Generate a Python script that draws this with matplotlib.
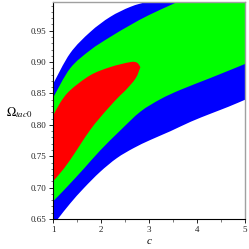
import numpy as np
import matplotlib
matplotlib.use("Agg")
from matplotlib import pyplot as plt
from matplotlib.path import Path
from matplotlib.patches import PathPatch
from matplotlib.ticker import MultipleLocator

# 信頼領域の境界 (c, Omega_tac0) : 画像から読み取った値
# 3 sigma (青)
blue_up_c = [1.0, 1.356, 1.775, 2.19, 2.61, 3.0, 3.4, 3.9, 5.0]
blue_up_y = [0.865, 0.914, 0.948, 0.972, 0.988, 0.997, 1.004, 1.01, 1.015]
blue_lo_c = [1.0, 1.11, 1.36, 1.64, 1.98, 2.33, 2.68, 3.03, 3.45, 3.87, 4.29, 4.66, 5.0]
blue_lo_y = [0.64, 0.651, 0.675, 0.699, 0.725, 0.747, 0.763, 0.776, 0.790, 0.805, 0.818, 0.829, 0.840]

# 2 sigma (緑)
green_up_c = [1.0, 1.356, 1.775, 2.19, 2.61, 3.0, 3.51, 3.8, 4.3, 5.0]
green_up_y = [0.843, 0.890, 0.919, 0.940, 0.959, 0.975, 0.993, 1.003, 1.01, 1.015]
green_lo_c = [1.0, 1.29, 1.64, 1.98, 2.40, 2.82, 3.24, 3.66, 4.29, 5.0]
green_lo_y = [0.678, 0.701, 0.730, 0.759, 0.791, 0.821, 0.841, 0.856, 0.875, 0.897]

# 1 sigma (赤)
red_up_c = [1.0, 1.147, 1.356, 1.775, 2.19, 2.61, 2.75, 2.82]
red_up_y = [0.814, 0.835, 0.855, 0.879, 0.892, 0.900, 0.899, 0.892]
red_lo_c = [1.0, 1.147, 1.356, 1.775, 2.12, 2.40, 2.51, 2.72, 2.82]
red_lo_y = [0.710, 0.723, 0.744, 0.792, 0.824, 0.847, 0.855, 0.874, 0.892]

x_ticks = [1, 2, 3, 4, 5]
y_ticks = [0.65, 0.70, 0.75, 0.80, 0.85, 0.90, 0.95]

plt.rcParams['mathtext.fontset'] = 'stix'
serif = ['Liberation Serif', 'DejaVu Serif']

fig = plt.figure(figsize=(2.49, 2.49), dpi=100)
ax = fig.add_axes([0.213, 0.1205, 0.771, 0.8695])


# 読み取った点を通る滑らかな曲線 (Catmull-Rom -> ベジェ)
def curve(xs, ys):
    p = np.column_stack([xs, ys])
    pp = np.vstack([p[0], p, p[-1]])
    verts = []
    for i in range(1, len(pp) - 2):
        c1 = pp[i] + (pp[i + 1] - pp[i - 1]) / 6
        c2 = pp[i + 1] - (pp[i + 2] - pp[i]) / 6
        verts += [c1, c2, pp[i + 1]]
    return p[0], verts


def region(up_c, up_y, lo_c, lo_y, color):
    s1, v1 = curve(up_c, up_y)
    s2, v2 = curve(lo_c[::-1], lo_y[::-1])
    verts = [s1] + v1 + [s2] + v2 + [s1]
    codes = ([Path.MOVETO] + [Path.CURVE4] * len(v1) + [Path.LINETO]
             + [Path.CURVE4] * len(v2) + [Path.CLOSEPOLY])
    ax.add_patch(PathPatch(Path(verts, codes), facecolor=color, lw=0))


region(blue_up_c, blue_up_y, blue_lo_c, blue_lo_y, '#0000ff')
region(green_up_c, green_up_y, green_lo_c, green_lo_y, '#00ff00')
region(red_up_c, red_up_y, red_lo_c, red_lo_y, '#ff0000')

ax.set_xlim(1, 5)
ax.set_ylim(0.65, 0.995)

ax.set_xticks(x_ticks)
ax.set_xticklabels([str(v) for v in x_ticks], family=serif, fontsize=6.5)
ax.set_yticks(y_ticks)
ax.set_yticklabels(['%.2f' % v for v in y_ticks], family=serif, fontsize=6.5)
ax.xaxis.set_minor_locator(MultipleLocator(0.5))
ax.yaxis.set_minor_locator(MultipleLocator(0.01))
ax.tick_params(which='major', length=3, width=0.7, pad=2, colors='#222222')
ax.tick_params(which='minor', length=1.8, width=0.5, color='#444444')

for s in ['top', 'right']:
    ax.spines[s].set_color('#a0a0a0')
    ax.spines[s].set_linewidth(1.0)
for s in ['left', 'bottom']:
    ax.spines[s].set_color('black')
    ax.spines[s].set_linewidth(0.8)

ax.text(-0.245, 0.49, r'$\Omega_{tac0}$', transform=ax.transAxes,
        fontsize=9, ha='left', va='center')
ax.text(0.5, -0.105, 'c', transform=ax.transAxes, family=serif,
        style='italic', fontsize=8, ha='center', va='center')

fig.savefig('out.png', dpi=100)
